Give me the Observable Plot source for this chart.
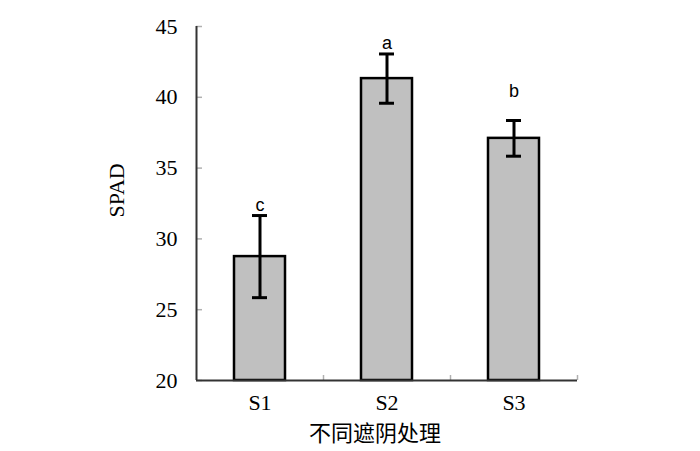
<!DOCTYPE html>
<html>
<head>
<meta charset="utf-8">
<script src="https://cdn.jsdelivr.net/npm/d3@7"></script>
<script src="https://cdn.jsdelivr.net/npm/@observablehq/plot@0.6"></script>
<style>
  html, body { margin: 0; padding: 0; background: #fff; }
</style>
</head>
<body>
<div id="chart"></div>
<script>
const categories = ["S1", "S2", "S3"];
const means = [28.75, 41.32, 37.1];
const errors = [2.9, 1.74, 1.26];
const letters = ["c", "a", "b"];
const letterY = [32.4, 43.85, 40.45];
const yTicks = [20, 25, 30, 35, 40, 45];
const yLabel = "SPAD";
const xLabel = "不同遮阴处理";

const data = categories.map((c, i) => ({
  cat: c, mean: means[i], err: errors[i], letter: letters[i], ly: letterY[i]
}));

const W = 700, H = 451;
const mL = 196, mR = 123, mT = 26, mB = 71;
const step = (W - mL - mR) / categories.length;
const tickLen = 5 * (45 - 20) / (H - mT - mB);

const chart = Plot.plot({
  width: W,
  height: H,
  marginLeft: mL,
  marginRight: mR,
  marginTop: mT,
  marginBottom: mB,
  style: { fontFamily: "'Liberation Serif', 'Times New Roman', serif", fontSize: "22px", background: "#fff", color: "#000" },
  x: { domain: categories, paddingInner: 0.6, paddingOuter: 0.3 },
  y: { domain: [20, 45] },
  marks: [
    Plot.barY(data, { x: "cat", y1: 20, y2: "mean", fill: "#c0c0c0", stroke: "#000", strokeWidth: 2.5 }),
    Plot.ruleX(data, { x: "cat", y1: d => d.mean - d.err, y2: d => d.mean + d.err, stroke: "#000", strokeWidth: 3 }),
    Plot.tickY(data, { x: "cat", y: d => d.mean - d.err, stroke: "#000", strokeWidth: 3, insetLeft: 18, insetRight: 18 }),
    Plot.tickY(data, { x: "cat", y: d => d.mean + d.err, stroke: "#000", strokeWidth: 3, insetLeft: 18, insetRight: 18 }),
    Plot.text(data, { x: "cat", y: "ly", text: "letter", fontFamily: "'Liberation Sans', Arial, sans-serif", fontSize: 18, fill: "#000" }),
    Plot.ruleX(categories, { x: d => d, dx: step / 2, y1: 20, y2: 20 + tickLen, stroke: "#b0b0b0", strokeWidth: 1.5 }),
    Plot.axisY({ ticks: yTicks, tickSize: -6, tickPadding: 25, stroke: "#b0b0b0", strokeWidth: 1.5, label: null, tickFormat: d => d, fill: "#000" }),
    Plot.ruleX([categories[0]], { x: d => d, dx: -step / 2, y1: 20, y2: 45, stroke: "#333", strokeWidth: 2 }),
    Plot.ruleY([20], { stroke: "#333", strokeWidth: 2 }),
    Plot.axisX({ tickSize: 0, tickPadding: 14, label: null, fill: "#000" }),
    Plot.text([yLabel], { frameAnchor: "left", rotate: -90, dx: -80, dy: 14, fontSize: 22, fill: "#000" }),
    Plot.text([xLabel], { frameAnchor: "bottom", dx: -12, dy: 60, fontFamily: "'Noto Sans CJK SC', sans-serif", fontSize: 22, fill: "#000" })
  ]
});
document.getElementById("chart").appendChild(chart);
</script>
</body>
</html>
